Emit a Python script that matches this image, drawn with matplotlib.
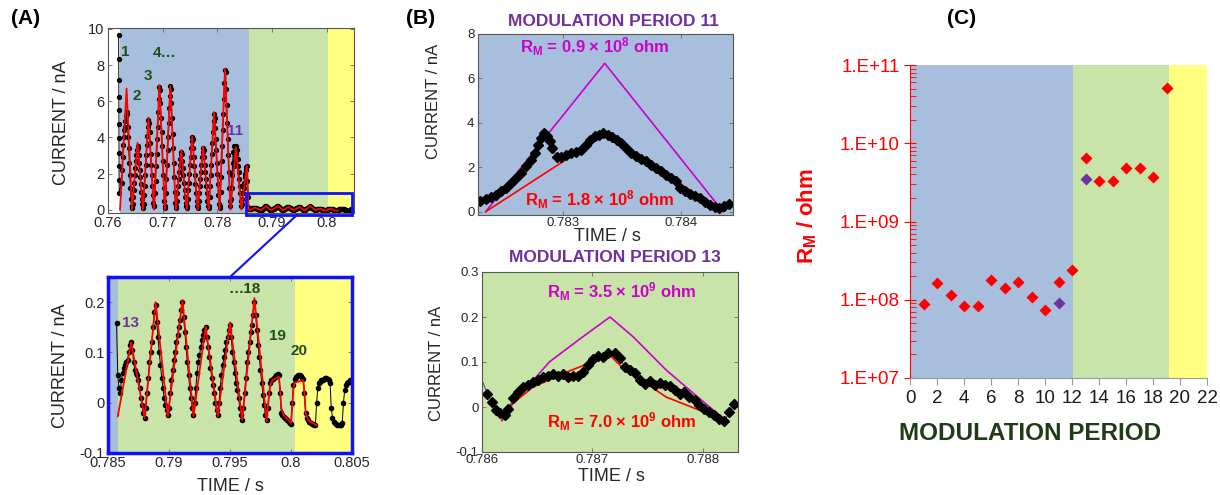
import matplotlib.pyplot as plt
import numpy as np
from matplotlib.patches import Rectangle, ConnectionPatch
from matplotlib.ticker import LogLocator, NullFormatter

plt.rcParams['font.family'] = ['Liberation Sans', 'DejaVu Sans']
plt.rcParams['mathtext.fontset'] = 'custom'
plt.rcParams['mathtext.rm'] = 'Liberation Sans'
plt.rcParams['mathtext.bf'] = 'Liberation Sans:bold'
plt.rcParams['mathtext.it'] = 'Liberation Sans:italic'

W, H = 1220, 495
BLUE_BG = '#a7bfdc'
GREEN_BG = '#c8e4a8'
YELLOW_BG = '#ffff80'
PURPLE = '#7030a0'
DKGREEN = '#1f4f1f'
MAGENTA = '#cc00cc'
FRAME_BLUE = '#1010ff'
TICKC = '#262626'

# ---------------- data ----------------
# (A) top: capacitive spike at start of the record
spike_t = [0.76195, 0.76196, 0.76197, 0.76198, 0.76199, 0.76200, 0.76201, 0.76202, 0.76203, 0.76204, 0.76205]
spike_i = [9.68, 8.34, 7.19, 6.23, 5.50, 4.76, 3.97, 3.14, 2.40, 1.66, 0.92]

# (A) top: modulation periods 1-12, sampled every 0.1 ms from 0.7625 s
a_t0 = 0.7625
a_cur = [1.5, 2.2, 2.9, 3.6, 4.0, 4.4, 4.6, 4.9, 5.2, 5.4, 5.3, 4.6, 4.0, 3.4, 2.6, 1.9, 1.2, 0.6, 0.2, 0.1,
         0.3, 0.7, 1.1, 1.5, 1.9, 2.3, 2.7, 3.0, 3.3, 3.5, 3.4, 3.0, 2.6, 2.2, 1.8, 1.4, 1.0, 0.6, 0.3, 0.1,
         0.3, 0.8, 1.3, 1.9, 2.5, 3.0, 3.6, 4.1, 4.6, 4.95, 4.8, 4.3, 3.7, 3.1, 2.5, 1.9, 1.3, 0.8, 0.4, 0.2,
         0.2, 0.9, 1.6, 2.4, 3.1, 3.9, 4.6, 5.4, 6.1, 6.8, 6.6, 5.9, 5.1, 4.3, 3.5, 2.7, 1.9, 1.2, 0.5, 0.1,
         0.2, 0.9, 1.7, 2.5, 3.3, 4.0, 4.8, 5.6, 6.3, 6.85, 6.7, 5.9, 5.1, 4.2, 3.4, 2.6, 1.8, 1.0, 0.4, 0.1,
         0.2, 0.5, 0.9, 1.3, 1.7, 2.1, 2.5, 2.8, 3.1, 3.2, 3.1, 2.7, 2.3, 1.9, 1.5, 1.1, 0.7, 0.4, 0.2, 0.1,
         0.2, 0.6, 1.1, 1.5, 2.0, 2.5, 2.9, 3.4, 3.8, 4.0, 3.9, 3.4, 2.9, 2.4, 1.9, 1.4, 0.9, 0.5, 0.2, 0.1,
         0.2, 0.5, 0.9, 1.3, 1.7, 2.1, 2.5, 2.9, 3.2, 3.4, 3.3, 2.9, 2.5, 2.1, 1.7, 1.3, 0.9, 0.5, 0.2, 0.1,
         0.2, 0.7, 1.3, 1.9, 2.5, 3.1, 3.7, 4.3, 4.9, 5.3, 5.1, 4.5, 3.9, 3.3, 2.6, 2.0, 1.4, 0.8, 0.3, 0.1,
         0.2, 1.0, 1.8, 2.7, 3.5, 4.4, 5.3, 6.1, 7.0, 7.75, 7.6, 6.7, 5.8, 4.8, 3.9, 3.0, 2.1, 1.2, 0.5, 0.2,
         0.6, 1.2, 1.9, 2.6, 3.2, 3.5, 2.4, 2.5, 2.7, 3.1, 3.5, 3.3, 2.8, 2.4, 2.1, 1.7, 1.3, 0.9, 0.5, 0.2,
         0.3, 0.6, 0.9, 1.2, 1.5, 1.8, 2.0, 2.2, 2.35, 2.4, 1.6, 0.7]

# (A) fitted triangles, periods 1-12
fit_a_t = [0.7622, 0.7634, 0.7644, 0.7654, 0.7664, 0.7674, 0.7684, 0.7694, 0.7704, 0.7714, 0.7724, 0.7734,
           0.7744, 0.7754, 0.7764, 0.7774, 0.7784, 0.7794, 0.7804, 0.7814, 0.7824, 0.7834, 0.7844, 0.7854, 0.7857]
fit_a_i = [0, 6.7, 0, 3.7, 0, 5.1, 0, 6.9, 0, 6.85, 0, 3.3, 0, 4.05, 0, 3.5, 0, 5.4, 0, 7.8, 0, 3.45, 0, 2.45, 0.1]

# (A) zoom: periods 13-22, sampled every 0.1 ms from 0.7857 s
z_t0 = 0.7857
z_cur = [0.158, 0.055,
         0.03, 0.02, 0.045, 0.06, 0.07, 0.075, 0.08, 0.085, 0.1, 0.115, 0.12, 0.105, 0.08, 0.065, 0.06, 0.055,
         0.045, 0.03, 0.01, -0.005, -0.02, -0.03,
         -0.01, 0.02, 0.05, 0.08, 0.1, 0.12, 0.15, 0.18, 0.195, 0.16, 0.13, 0.1, 0.075, 0.05, 0.03, 0.01,
         -0.005, -0.015, -0.025,
         -0.01, 0.02, 0.045, 0.065, 0.085, 0.1, 0.12, 0.135, 0.15, 0.165, 0.185, 0.2, 0.17, 0.14, 0.11, 0.08,
         0.055, 0.03, 0.01, -0.01, -0.025,
         0.0, 0.03, 0.06, 0.08, 0.095, 0.11, 0.125, 0.135, 0.145, 0.15, 0.13, 0.11, 0.09, 0.07, 0.05, 0.035,
         0.02, 0.0, -0.015, -0.025,
         0.0, 0.03, 0.055, 0.075, 0.09, 0.105, 0.12, 0.13, 0.145, 0.155, 0.13, 0.1, 0.08, 0.06, 0.04, 0.025,
         0.01, -0.01, -0.025, -0.035,
         -0.01, 0.02, 0.05, 0.08, 0.1, 0.12, 0.14, 0.155, 0.175, 0.2, 0.175, 0.145, 0.115, 0.09, 0.065, 0.04,
         0.015, -0.005, -0.025, -0.035,
         -0.01, 0.02, 0.04, 0.045, 0.048, 0.05, 0.052, 0.055, 0.058, 0.055, 0.02, -0.02, -0.025, -0.028,
         -0.03, -0.032, -0.035, -0.038, -0.04, -0.042,
         0.0, 0.035, 0.048, 0.052, 0.054, 0.055, 0.055, 0.053, 0.05, 0.048, 0.02, -0.02, -0.03, -0.035,
         -0.038, -0.04, -0.042, -0.043, -0.044, -0.045,
         0.0, 0.03, 0.04, 0.042, 0.045, 0.045, 0.048, 0.05, 0.05, 0.048, 0.045, 0.04, -0.01, -0.03, -0.038,
         -0.04, -0.042, -0.044, -0.045, -0.045, -0.044, -0.04,
         0.0, 0.025, 0.035, 0.04, 0.042, 0.045, 0.045, 0.04]

fit_z_t = [0.7858, 0.7869, 0.7880, 0.7889, 0.7899, 0.7911, 0.7920, 0.7930, 0.7940, 0.7950, 0.7960, 0.7970,
           0.7980, 0.7982, 0.7983, 0.7985, 0.7990, 0.7991, 0.7992, 0.7994, 0.8000, 0.8001, 0.8002, 0.8003,
           0.8010, 0.8011, 0.8012, 0.8014, 0.8021]
fit_z_i = [-0.027, 0.12, -0.03, 0.2, -0.027, 0.204, -0.027, 0.151, -0.027, 0.16, -0.034, 0.208, -0.037,
           0.015, 0.035, 0.045, 0.052, 0.03, -0.01, -0.025, -0.04, -0.01, 0.03, 0.04, 0.045, 0.02, -0.02,
           -0.035, -0.045]

# (B) modulation period 11
p11_t = [0.782301, 0.782346, 0.782394, 0.782437, 0.782479, 0.782521, 0.782563, 0.782606, 0.782648, 0.782690,
         0.782732, 0.782760, 0.782788, 0.782817, 0.782836, 0.782864, 0.782887, 0.782910, 0.782949, 0.782986,
         0.783028, 0.783070, 0.783113, 0.783155, 0.783197, 0.783231, 0.783268, 0.783304, 0.783338, 0.783380,
         0.783417, 0.783456, 0.783493, 0.783535, 0.783578, 0.783620, 0.783662, 0.783704, 0.783747, 0.783789,
         0.783831, 0.783873, 0.783916, 0.783958, 0.783992, 0.784028, 0.784071, 0.784113, 0.784155, 0.784197,
         0.784240, 0.784282, 0.784319, 0.784358, 0.784403]
p11_i = [0.48, 0.56, 0.65, 0.76, 0.91, 1.06, 1.28, 1.51, 1.74, 2.04, 2.34, 2.64, 3.02, 3.32, 3.52, 3.39, 3.17,
         2.87, 2.44, 2.45, 2.57, 2.64, 2.67, 2.79, 3.02, 3.21, 3.39, 3.47, 3.52, 3.47, 3.37, 3.21, 3.09, 2.87,
         2.64, 2.49, 2.37, 2.26, 2.11, 1.96, 1.81, 1.66, 1.51, 1.36, 1.06, 0.91, 0.80, 0.71, 0.61, 0.45, 0.30,
         0.20, 0.15, 0.26, 0.35]
mag11_t = [0.782346, 0.783352, 0.784352]
mag11_i = [0, 6.68, 0]
red11_t = [0.782346, 0.783352, 0.784352]
red11_i = [0, 3.47, 0]

# (B) modulation period 13
p13_t = [0.786006, 0.786048, 0.786088, 0.786127, 0.786163, 0.786208, 0.786238, 0.786283, 0.786328, 0.786373,
         0.786419, 0.786464, 0.786509, 0.786554, 0.786599, 0.786645, 0.786690, 0.786735, 0.786780, 0.786825,
         0.786870, 0.786916, 0.786961, 0.787006, 0.787051, 0.787096, 0.787142, 0.787202, 0.787247, 0.787293,
         0.787338, 0.787383, 0.787428, 0.787474, 0.787519, 0.787564, 0.787609, 0.787654, 0.787700, 0.787745,
         0.787790, 0.787835, 0.787880, 0.787926, 0.787971, 0.788016, 0.788061, 0.788107, 0.788152, 0.788197,
         0.788242, 0.788287]
p13_i = [0.056, 0.030, 0.011, -0.006, -0.013, -0.018, -0.004, 0.019, 0.033, 0.044, 0.048, 0.056, 0.059, 0.067,
         0.070, 0.074, 0.070, 0.074, 0.067, 0.068, 0.070, 0.078, 0.093, 0.107, 0.113, 0.111, 0.119, 0.120,
         0.110, 0.089, 0.082, 0.076, 0.059, 0.052, 0.057, 0.050, 0.053, 0.050, 0.046, 0.037, 0.030, 0.033,
         0.022, 0.015, 0.004, -0.004, -0.011, -0.018, -0.026, -0.031, -0.011, 0.0075]
mag13_t = [0.78618, 0.78625, 0.78643, 0.78661, 0.78688, 0.78716, 0.78737, 0.78767, 0.78797, 0.78821]
mag13_i = [-0.03, 0.0, 0.05, 0.1, 0.15, 0.2, 0.156, 0.082, 0.019, -0.03]
red13_t = [0.78618, 0.78628, 0.78646, 0.78677, 0.78716, 0.78725, 0.78737, 0.78767, 0.78797, 0.78820]
red13_i = [-0.03, 0.008, 0.044, 0.078, 0.115, 0.093, 0.072, 0.022, -0.007, -0.028]

# (C) membrane resistance per modulation period
period_red = [1, 2, 3, 4, 5, 6, 7, 8, 9, 10, 11, 12, 13, 14, 15, 16, 17, 18, 19]
rm_red = [8.8e7, 1.64e8, 1.16e8, 8.4e7, 8.4e7, 1.78e8, 1.41e8, 1.69e8, 1.07e8, 7.5e7, 1.69e8, 2.43e8,
          6.5e9, 3.3e9, 3.3e9, 4.85e9, 4.85e9, 3.66e9, 5.1e10]
period_purple = [11, 13]
rm_purple = [0.9e8, 3.5e9]
c_blue_end, c_green_end = 12.1, 19.2

# time grids of the sampled traces
a_t = a_t0 + 0.0001 * np.arange(len(a_cur))
z_t = z_t0 + 0.0001 * np.arange(len(z_cur))
top_t = np.concatenate([spike_t, a_t, z_t])
top_i = np.concatenate([spike_i, a_cur, z_cur])
top_fit_t = fit_a_t + fit_z_t
top_fit_i = fit_a_i + fit_z_i

fig = plt.figure(figsize=(12.2, 4.95), dpi=100)


def box(l, t, r, b):
    return fig.add_axes([l / W, 1 - b / H, (r - l) / W, (b - t) / H])


def matlab_style(ax, fs):
    ax.tick_params(direction='in', top=True, right=True, length=3, width=0.6,
                   colors='#666666', labelcolor=TICKC, labelsize=fs, pad=2.5)
    for s in ax.spines.values():
        s.set_color('#555555')
        s.set_linewidth(0.8)


def ftext(x, y, s, **kw):
    fig.text(x / W, 1 - y / H, s, ha='center', va='center', **kw)


# ---------------- (A) top ----------------
axa = box(108, 28, 354, 213)
axa.axvspan(0.7622, 0.7858, color=BLUE_BG, lw=0)
axa.axvspan(0.7858, 0.8003, color=GREEN_BG, lw=0)
axa.axvspan(0.8003, 0.805, color=YELLOW_BG, lw=0)
axa.plot(top_t, top_i, '-o', color='black', lw=0.7, ms=2.8)
axa.plot(top_fit_t, top_fit_i, color='red', lw=1.3)
axa.add_patch(Rectangle((0.78524, -0.28), 0.80472 - 0.78524, 1.2, fill=False,
                        ec=FRAME_BLUE, lw=2, zorder=5, clip_on=False))
axa.set_xlim(0.76, 0.805)
axa.set_ylim(-0.18, 10.05)
axa.set_xticks([0.76, 0.77, 0.78, 0.79, 0.8])
axa.set_xticklabels(['0.76', '0.77', '0.78', '0.79', '0.8'])
axa.set_yticks([0, 2, 4, 6, 8, 10])
matlab_style(axa, 10.5)
axa.text(-0.191, 0.486, 'CURRENT / nA', rotation=90, ha='center', va='center',
         fontsize=13, color=TICKC, transform=axa.transAxes)
for lab, tx, ty in [('1', 0.76311, 8.74), ('2', 0.76525, 6.27), ('3', 0.76726, 7.38)]:
    axa.text(tx, ty, lab, color=DKGREEN, fontsize=11, fontweight='bold', ha='center', va='center')
axa.text(0.76817, 8.67, '4…', color=DKGREEN, fontsize=11, fontweight='bold', ha='left', va='center')
axa.text(0.78323, 4.33, '11', color=PURPLE, fontsize=11, fontweight='bold', ha='center', va='center')

# ---------------- (A) bottom ----------------
axz = box(108, 277, 352, 453)
axz.axvspan(0.785, 0.7858, color=BLUE_BG, lw=0)
axz.axvspan(0.7858, 0.8003, color=GREEN_BG, lw=0)
axz.axvspan(0.8003, 0.805, color=YELLOW_BG, lw=0)
axz.plot(z_t, z_cur, '-o', color='black', lw=0.7, ms=3.0)
axz.plot(fit_z_t, fit_z_i, color='red', lw=1.3)
axz.set_xlim(0.785, 0.805)
axz.set_ylim(-0.1, 0.25)
axz.set_xticks([0.785, 0.79, 0.795, 0.8, 0.805])
axz.set_xticklabels(['0.785', '0.79', '0.795', '0.8', '0.805'])
axz.set_yticks([-0.1, 0, 0.1, 0.2])
axz.set_yticklabels(['-0.1', '0', '0.1', '0.2'])
matlab_style(axz, 10.5)
for s in axz.spines.values():
    s.set_color(FRAME_BLUE)
    s.set_linewidth(2.5)
axz.text(-0.195, 0.494, 'CURRENT / nA', rotation=90, ha='center', va='center',
         fontsize=13, color=TICKC, transform=axz.transAxes)
axz.text(0.5, -0.193, 'TIME / s', ha='center', va='center', fontsize=13, color=TICKC,
         transform=axz.transAxes)
axz.text(0.78684, 0.158, '13', color=PURPLE, fontsize=11, fontweight='bold', ha='center', va='center')
axz.text(0.79616, 0.227, '…18', color=DKGREEN, fontsize=11, fontweight='bold', ha='center', va='center')
axz.text(0.79889, 0.133, '19', color=DKGREEN, fontsize=11, fontweight='bold', ha='center', va='center')
axz.text(0.80067, 0.103, '20', color=DKGREEN, fontsize=11, fontweight='bold', ha='center', va='center')

con = ConnectionPatch(xyA=(0.7946, -0.28), coordsA=axa.transData, xyB=(0.795, 0.25),
                      coordsB=axz.transData, color=FRAME_BLUE, lw=1.5)
fig.add_artist(con)

# ---------------- (B) top ----------------
axb = box(478, 34, 733, 215)
axb.set_facecolor(BLUE_BG)
axb.plot(mag11_t, mag11_i, color=MAGENTA, lw=1.2)
axb.plot(red11_t, red11_i, color='red', lw=1.2)
axb.plot(p11_t, p11_i, '-D', color='#444444', lw=0.7, ms=5.2, mfc='black', mec='black')
axb.set_xlim(0.782281, 0.784436)
axb.set_ylim(-0.15, 8.0)
axb.set_xticks([0.783, 0.784])
axb.set_xticklabels(['0.783', '0.784'])
axb.set_yticks([0, 2, 4, 6, 8])
matlab_style(axb, 9.5)
axb.tick_params(axis='x', pad=1.5)
axb.text(-0.173, 0.626, 'CURRENT / nA', rotation=90, ha='center', va='center',
         fontsize=12, color=TICKC, transform=axb.transAxes)
axb.text(0.508, -0.118, 'TIME / s', ha='center', va='center', fontsize=13, color=TICKC,
         transform=axb.transAxes)
axb.text(0.459, 0.928, r'R$_\mathbf{M}$ = 0.9 × 10$^\mathbf{8}$ ohm', color=MAGENTA, fontsize=12,
         fontweight='bold', ha='center', va='center', transform=axb.transAxes)
axb.text(0.478, 0.083, r'R$_\mathbf{M}$ = 1.8 × 10$^\mathbf{8}$ ohm', color='red', fontsize=12,
         fontweight='bold', ha='center', va='center', transform=axb.transAxes)
ftext(613, 21.5, 'MODULATION PERIOD 11', color=PURPLE, fontsize=12.5, fontweight='bold')

# ---------------- (B) bottom ----------------
axb2 = box(482, 272, 738, 452)
axb2.set_facecolor(GREEN_BG)
axb2.plot(mag13_t, mag13_i, color=MAGENTA, lw=1.2)
axb2.plot(red13_t, red13_i, color='red', lw=1.2)
axb2.plot(p13_t, p13_i, '-D', color='#444444', lw=0.7, ms=5.2, mfc='black', mec='black',
          markevery=slice(1, None))
axb2.set_xlim(0.786, 0.78832)
axb2.set_ylim(-0.1, 0.3)
axb2.set_xticks([0.786, 0.787, 0.788])
axb2.set_xticklabels(['0.786', '0.787', '0.788'])
axb2.set_yticks([-0.1, 0, 0.1, 0.2, 0.3])
axb2.set_yticklabels(['-0.1', '0', '0.1', '0.2', '0.3'])
matlab_style(axb2, 9.5)
axb2.tick_params(axis='x', pad=1.5)
axb2.text(-0.177, 0.494, 'CURRENT / nA', rotation=90, ha='center', va='center',
          fontsize=12, color=TICKC, transform=axb2.transAxes)
axb2.text(0.504, -0.135, 'TIME / s', ha='center', va='center', fontsize=13, color=TICKC,
          transform=axb2.transAxes)
axb2.text(0.545, 0.889, r'R$_\mathbf{M}$ = 3.5 × 10$^\mathbf{9}$ ohm', color=MAGENTA, fontsize=12,
          fontweight='bold', ha='center', va='center', transform=axb2.transAxes)
axb2.text(0.545, 0.167, r'R$_\mathbf{M}$ = 7.0 × 10$^\mathbf{9}$ ohm', color='red', fontsize=12,
          fontweight='bold', ha='center', va='center', transform=axb2.transAxes)
ftext(615, 258, 'MODULATION PERIOD 13', color=PURPLE, fontsize=12.5, fontweight='bold')

# ---------------- (C) ----------------
axc = box(910, 65, 1207, 378)
axc.axvspan(0, c_blue_end, color=BLUE_BG, lw=0)
axc.axvspan(c_blue_end, c_green_end, color=GREEN_BG, lw=0)
axc.axvspan(c_green_end, 22, color=YELLOW_BG, lw=0)
axc.set_yscale('log')
axc.plot(period_red, rm_red, 'D', color='red', ms=6.5, mec='none', zorder=3)
axc.plot(period_purple, rm_purple, 'D', color=PURPLE, ms=6.5, mec='none', zorder=3)
axc.set_xlim(0, 22)
axc.set_ylim(1e7, 1e11)
axc.set_xticks(range(0, 23, 2))
axc.set_yticks([1e7, 1e8, 1e9, 1e10, 1e11])
axc.set_yticklabels(['1.E+07', '1.E+08', '1.E+09', '1.E+10', '1.E+11'])
axc.yaxis.set_minor_locator(LogLocator(base=10, subs=range(2, 10)))
axc.yaxis.set_minor_formatter(NullFormatter())
for s in ['top', 'right']:
    axc.spines[s].set_visible(False)
axc.spines['left'].set_color('red')
axc.spines['bottom'].set_color('#999999')
axc.tick_params(axis='y', which='major', direction='inout', length=8, color='red',
                labelcolor='red', labelsize=13.5)
axc.tick_params(axis='y', which='minor', direction='in', length=4, color='red')
axc.tick_params(axis='x', direction='out', length=5, color='#999999', labelcolor='#1a1a1a',
                labelsize=13.5)
ftext(807, 216, r'R$_\mathbf{M}$ / ohm', color='red', fontsize=16, fontweight='bold', rotation=90)
ftext(1030, 433, 'MODULATION PERIOD', color='#1e3d14', fontsize=17.5, fontweight='bold')

# panel letters
ftext(26, 18, '(A)', fontsize=15, fontweight='bold')
ftext(421, 18, '(B)', fontsize=15, fontweight='bold')
ftext(962, 18, '(C)', fontsize=15, fontweight='bold')

fig.savefig('out.png', dpi=100, facecolor='white')
